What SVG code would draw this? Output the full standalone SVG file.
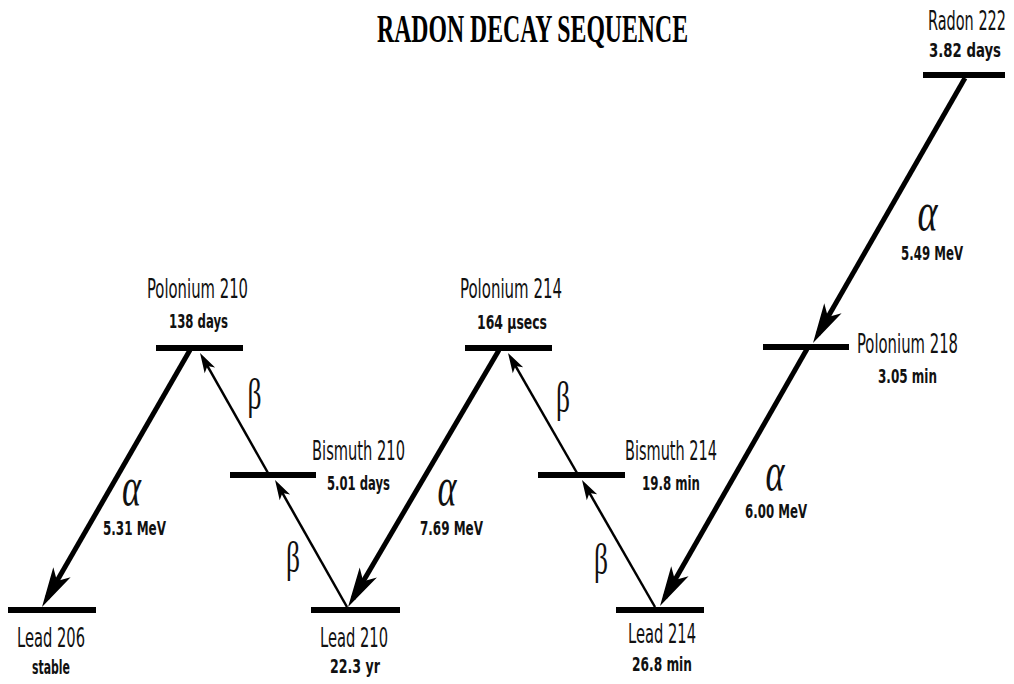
<svg xmlns="http://www.w3.org/2000/svg" width="1014" height="684" viewBox="0 0 1014 684">
<style>
.bar{fill:#000}
.alpha{stroke:#000;stroke-width:5;fill:none;marker-end:url(#ah-alpha)}
.beta{stroke:#000;stroke-width:2.5;fill:none;marker-end:url(#ah-beta)}
text{text-anchor:middle;fill:#111}
.name{font-family:"DejaVu Sans Condensed","DejaVu Sans",sans-serif;font-size:27px}
.sub,.en{font-family:"DejaVu Sans Condensed","DejaVu Sans",sans-serif;font-size:20px;font-weight:bold}
.ga{font-family:"Liberation Serif",serif;font-style:italic;font-size:54px}
.gb{font-family:"Liberation Serif",serif;font-size:44px}
.title{font-family:"Liberation Serif",serif;font-weight:bold;font-size:40px;fill:#000}
</style>
<defs>
<marker id="ah-alpha" markerUnits="userSpaceOnUse" orient="auto" refX="0" refY="0" markerWidth="60" markerHeight="30" overflow="visible"><path d="M10,0 L-30,-10 L-20,0 L-30,10 Z" fill="#000"/></marker>
<marker id="ah-beta" markerUnits="userSpaceOnUse" orient="auto" refX="0" refY="0" markerWidth="30" markerHeight="20" overflow="visible"><path d="M6,0 L-14,-6 L-9,0 L-14,6 Z" fill="#000"/></marker>
</defs>
<rect width="1014" height="684" fill="#fff"/>
<text class="title" transform="translate(532.5,42) scale(0.59,1)" textLength="527" lengthAdjust="spacingAndGlyphs">RADON DECAY SEQUENCE</text>

<g id="connectors">
<path class="alpha" d="M965,78 L818,334.3"/>
<path class="alpha" d="M807,349 L665,597.3"/>
<path class="alpha" d="M499,350 L353.1,598.4"/>
<path class="alpha" d="M190,350 L47,598.3"/>
<path class="beta" d="M655,607 L585,485.2"/>
<path class="beta" d="M577,473 L511,358.2"/>
<path class="beta" d="M347,607 L278,485.2"/>
<path class="beta" d="M268,473 L203,358.2"/>
<text class="ga" transform="translate(927.5,230) scale(0.65,1)" textLength="30.8" lengthAdjust="spacingAndGlyphs">α</text>
<text class="en" transform="translate(932,260) scale(0.66,1)" textLength="93.9" lengthAdjust="spacingAndGlyphs">5.49 MeV</text>
<text class="ga" transform="translate(775,490) scale(0.65,1)" textLength="29.2" lengthAdjust="spacingAndGlyphs">α</text>
<text class="en" transform="translate(776,518) scale(0.66,1)" textLength="93.9" lengthAdjust="spacingAndGlyphs">6.00 MeV</text>
<text class="ga" transform="translate(447,505) scale(0.65,1)" textLength="29.2" lengthAdjust="spacingAndGlyphs">α</text>
<text class="en" transform="translate(451.5,535) scale(0.66,1)" textLength="95.5" lengthAdjust="spacingAndGlyphs">7.69 MeV</text>
<text class="ga" transform="translate(131.5,505) scale(0.65,1)" textLength="29.2" lengthAdjust="spacingAndGlyphs">α</text>
<text class="en" transform="translate(134.5,535) scale(0.66,1)" textLength="95.5" lengthAdjust="spacingAndGlyphs">5.31 MeV</text>
<text class="gb" transform="translate(254.5,409) scale(0.64,1)" textLength="21.9" lengthAdjust="spacingAndGlyphs">β</text>
<text class="gb" transform="translate(293,572) scale(0.64,1)" textLength="21.9" lengthAdjust="spacingAndGlyphs">β</text>
<text class="gb" transform="translate(563,412) scale(0.64,1)" textLength="21.9" lengthAdjust="spacingAndGlyphs">β</text>
<text class="gb" transform="translate(601,574) scale(0.64,1)" textLength="21.9" lengthAdjust="spacingAndGlyphs">β</text>
</g>

<g id="radon222">
<rect class="bar" x="923" y="72" width="82" height="6"/>
<text class="name" transform="translate(967,30) scale(0.6,1)" textLength="130" lengthAdjust="spacingAndGlyphs">Radon 222</text>
<text class="sub" transform="translate(965,57) scale(0.67,1)" textLength="107.5" lengthAdjust="spacingAndGlyphs">3.82 days</text>
</g>
<g id="polonium218">
<rect class="bar" x="763" y="344" width="86" height="6"/>
<text class="name" transform="translate(907.5,353) scale(0.6,1)" textLength="168.3" lengthAdjust="spacingAndGlyphs">Polonium 218</text>
<text class="sub" transform="translate(907.5,383) scale(0.67,1)" textLength="88.1" lengthAdjust="spacingAndGlyphs">3.05 min</text>
</g>
<g id="lead214">
<rect class="bar" x="616" y="607" width="88" height="6"/>
<text class="name" transform="translate(662,643) scale(0.6,1)" textLength="113.3" lengthAdjust="spacingAndGlyphs">Lead 214</text>
<text class="sub" transform="translate(662,671) scale(0.67,1)" textLength="89.6" lengthAdjust="spacingAndGlyphs">26.8 min</text>
</g>
<g id="bismuth214">
<rect class="bar" x="538" y="472" width="87" height="6"/>
<text class="name" transform="translate(671,460) scale(0.6,1)" textLength="153.3" lengthAdjust="spacingAndGlyphs">Bismuth 214</text>
<text class="sub" transform="translate(671,490) scale(0.67,1)" textLength="86.6" lengthAdjust="spacingAndGlyphs">19.8 min</text>
</g>
<g id="polonium214">
<rect class="bar" x="465" y="345" width="87" height="6"/>
<text class="name" transform="translate(511,298) scale(0.6,1)" textLength="170" lengthAdjust="spacingAndGlyphs">Polonium 214</text>
<text class="sub" transform="translate(512,329) scale(0.67,1)" textLength="104.5" lengthAdjust="spacingAndGlyphs">164 μsecs</text>
</g>
<g id="lead210">
<rect class="bar" x="311" y="607" width="89" height="6"/>
<text class="name" transform="translate(354,647) scale(0.6,1)" textLength="113.3" lengthAdjust="spacingAndGlyphs">Lead 210</text>
<text class="sub" transform="translate(355,673) scale(0.67,1)" textLength="74.6" lengthAdjust="spacingAndGlyphs">22.3 yr</text>
</g>
<g id="bismuth210">
<rect class="bar" x="230" y="472" width="86" height="6"/>
<text class="name" transform="translate(358.5,460) scale(0.6,1)" textLength="155" lengthAdjust="spacingAndGlyphs">Bismuth 210</text>
<text class="sub" transform="translate(358.5,490) scale(0.67,1)" textLength="94" lengthAdjust="spacingAndGlyphs">5.01 days</text>
</g>
<g id="polonium210">
<rect class="bar" x="156" y="345" width="87" height="6"/>
<text class="name" transform="translate(197.5,298) scale(0.6,1)" textLength="168.3" lengthAdjust="spacingAndGlyphs">Polonium 210</text>
<text class="sub" transform="translate(198.5,328) scale(0.67,1)" textLength="88.1" lengthAdjust="spacingAndGlyphs">138 days</text>
</g>
<g id="lead206">
<rect class="bar" x="8" y="607" width="88" height="6"/>
<text class="name" transform="translate(51,647) scale(0.6,1)" textLength="113.3" lengthAdjust="spacingAndGlyphs">Lead 206</text>
<text class="sub" transform="translate(51,674) scale(0.67,1)" textLength="56.7" lengthAdjust="spacingAndGlyphs">stable</text>
</g>
</svg>
